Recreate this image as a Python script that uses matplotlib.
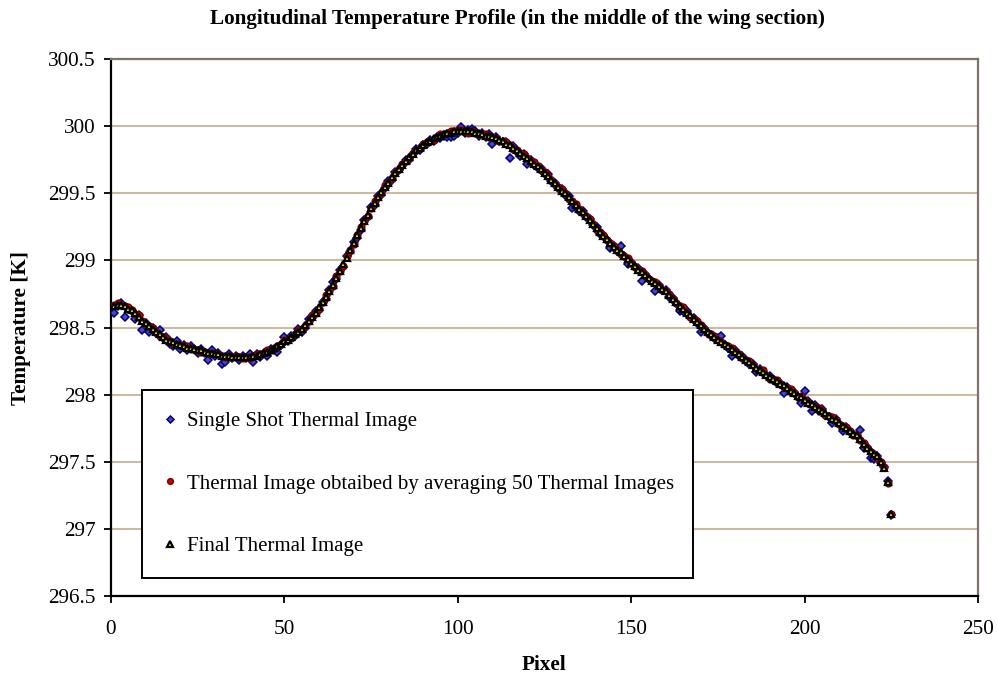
#!/usr/bin/env python3

import matplotlib as mpl
import matplotlib.pyplot as plt
from matplotlib.ticker import FuncFormatter

# Temperature along the wing chord, one value per image pixel.
pixel = list(range(1, 226))

final_image = [
    298.66, 298.67, 298.67, 298.66, 298.64, 298.63, 298.61, 298.58, 298.55, 298.53,
    298.51, 298.49, 298.47, 298.45, 298.43, 298.41, 298.40, 298.39, 298.38, 298.37,
    298.36, 298.35, 298.35, 298.34, 298.33, 298.33, 298.32, 298.31, 298.31, 298.30,
    298.30, 298.29, 298.29, 298.29, 298.28, 298.28, 298.28, 298.28, 298.28, 298.28,
    298.29, 298.29, 298.30, 298.31, 298.32, 298.33, 298.35, 298.36, 298.38, 298.40,
    298.41, 298.43, 298.45, 298.47, 298.49, 298.52, 298.55, 298.58, 298.61, 298.65,
    298.69, 298.73, 298.77, 298.82, 298.87, 298.92, 298.97, 299.02, 299.08, 299.13,
    299.19, 299.24, 299.29, 299.34, 299.39, 299.43, 299.47, 299.51, 299.55, 299.58,
    299.62, 299.65, 299.68, 299.71, 299.74, 299.77, 299.79, 299.82, 299.84, 299.86,
    299.88, 299.89, 299.91, 299.92, 299.93, 299.94, 299.95, 299.95, 299.96, 299.96,
    299.96, 299.96, 299.96, 299.96, 299.95, 299.95, 299.94, 299.93, 299.93, 299.92,
    299.91, 299.90, 299.89, 299.87, 299.86, 299.84, 299.82, 299.80, 299.78, 299.76,
    299.74, 299.72, 299.70, 299.68, 299.65, 299.63, 299.60, 299.58, 299.55, 299.52,
    299.50, 299.47, 299.44, 299.41, 299.38, 299.36, 299.33, 299.30, 299.27, 299.24,
    299.21, 299.18, 299.16, 299.13, 299.10, 299.08, 299.06, 299.03, 299.01, 298.98,
    298.96, 298.93, 298.91, 298.89, 298.87, 298.85, 298.83, 298.81, 298.79, 298.77,
    298.74, 298.71, 298.69, 298.66, 298.64, 298.61, 298.59, 298.56, 298.54, 298.52,
    298.49, 298.47, 298.45, 298.43, 298.41, 298.39, 298.38, 298.36, 298.34, 298.32,
    298.30, 298.28, 298.26, 298.24, 298.22, 298.20, 298.18, 298.17, 298.15, 298.13,
    298.12, 298.10, 298.08, 298.07, 298.05, 298.03, 298.01, 297.99, 297.98, 297.96,
    297.94, 297.93, 297.91, 297.89, 297.88, 297.86, 297.84, 297.82, 297.81, 297.79,
    297.77, 297.75, 297.73, 297.71, 297.70, 297.67, 297.63, 297.60, 297.58, 297.56,
    297.54, 297.50, 297.45, 297.35, 297.11,
]

averaged_image = [
    298.67, 298.68, 298.67, 298.66, 298.65, 298.63, 298.60, 298.59, 298.55, 298.52,
    298.51, 298.50, 298.47, 298.44, 298.43, 298.42, 298.40, 298.38, 298.38, 298.37,
    298.36, 298.36, 298.34, 298.34, 298.33, 298.32, 298.32, 298.31, 298.30, 298.30,
    298.30, 298.29, 298.28, 298.29, 298.28, 298.29, 298.28, 298.27, 298.28, 298.27,
    298.29, 298.30, 298.30, 298.31, 298.33, 298.33, 298.34, 298.36, 298.38, 298.41,
    298.41, 298.42, 298.45, 298.48, 298.49, 298.51, 298.55, 298.59, 298.61, 298.64,
    298.69, 298.74, 298.77, 298.81, 298.88, 298.92, 298.96, 299.03, 299.08, 299.12,
    299.19, 299.25, 299.29, 299.33, 299.39, 299.44, 299.47, 299.50, 299.56, 299.58,
    299.61, 299.66, 299.68, 299.72, 299.74, 299.76, 299.80, 299.82, 299.84, 299.87,
    299.88, 299.89, 299.90, 299.92, 299.94, 299.94, 299.95, 299.96, 299.96, 299.97,
    299.97, 299.96, 299.95, 299.96, 299.95, 299.94, 299.94, 299.94, 299.92, 299.92,
    299.91, 299.89, 299.89, 299.88, 299.86, 299.83, 299.82, 299.80, 299.79, 299.76,
    299.74, 299.73, 299.70, 299.67, 299.66, 299.63, 299.60, 299.57, 299.55, 299.53,
    299.50, 299.46, 299.44, 299.42, 299.38, 299.35, 299.33, 299.31, 299.27, 299.23,
    299.21, 299.19, 299.15, 299.13, 299.11, 299.08, 299.05, 299.03, 299.02, 298.98,
    298.95, 298.93, 298.92, 298.89, 298.86, 298.85, 298.84, 298.81, 298.78, 298.77,
    298.75, 298.71, 298.68, 298.66, 298.65, 298.61, 298.58, 298.56, 298.55, 298.52,
    298.49, 298.46, 298.45, 298.44, 298.41, 298.39, 298.37, 298.36, 298.35, 298.32,
    298.30, 298.27, 298.26, 298.25, 298.22, 298.19, 298.18, 298.18, 298.15, 298.12,
    298.12, 298.11, 298.08, 298.06, 298.05, 298.04, 298.01, 297.98, 297.99, 297.96,
    297.94, 297.92, 297.91, 297.90, 297.88, 297.85, 297.84, 297.83, 297.81, 297.78,
    297.77, 297.76, 297.73, 297.70, 297.70, 297.66, 297.64, 297.60, 297.57, 297.56,
    297.53, 297.50, 297.46, 297.34, 297.11,
]

single_shot = [
    298.61, 298.66, 298.68, 298.58, 298.64, 298.62, 298.56, 298.59, 298.48, 298.53,
    298.47, 298.50, 298.46, 298.48, 298.42, 298.43, 298.38, 298.36, 298.40, 298.34,
    298.37, 298.33, 298.36, 298.34, 298.31, 298.34, 298.31, 298.26, 298.33, 298.29,
    298.31, 298.23, 298.24, 298.30, 298.27, 298.29, 298.26, 298.29, 298.27, 298.30,
    298.24, 298.30, 298.28, 298.31, 298.29, 298.34, 298.33, 298.32, 298.37, 298.43,
    298.40, 298.44, 298.44, 298.49, 298.47, 298.50, 298.56, 298.57, 298.62, 298.63,
    298.69, 298.71, 298.78, 298.84, 298.86, 298.93, 298.95, 299.03, 299.06, 299.14,
    299.17, 299.23, 299.30, 299.32, 299.40, 299.41, 299.48, 299.49, 299.54, 299.59,
    299.60, 299.66, 299.67, 299.70, 299.75, 299.75, 299.79, 299.83, 299.82, 299.86,
    299.87, 299.90, 299.89, 299.92, 299.91, 299.93, 299.92, 299.92, 299.93, 299.95,
    299.99, 299.95, 299.97, 299.98, 299.96, 299.93, 299.95, 299.92, 299.94, 299.87,
    299.92, 299.89, 299.88, 299.88, 299.76, 299.85, 299.81, 299.78, 299.79, 299.72,
    299.75, 299.71, 299.69, 299.69, 299.64, 299.64, 299.59, 299.58, 299.54, 299.53,
    299.49, 299.48, 299.39, 299.40, 299.37, 299.37, 299.32, 299.31, 299.26, 299.25,
    299.20, 299.19, 299.15, 299.09, 299.11, 299.07, 299.11, 299.03, 298.97, 298.99,
    298.95, 298.94, 298.85, 298.90, 298.86, 298.84, 298.77, 298.82, 298.78, 298.78,
    298.73, 298.72, 298.68, 298.62, 298.62, 298.62, 298.58, 298.57, 298.53, 298.47,
    298.50, 298.46, 298.44, 298.42, 298.42, 298.44, 298.37, 298.35, 298.29, 298.33,
    298.29, 298.29, 298.25, 298.23, 298.23, 298.17, 298.19, 298.16, 298.15, 298.14,
    298.11, 298.09, 298.09, 298.01, 298.06, 298.02, 298.02, 297.98, 297.94, 298.03,
    297.95, 297.88, 297.92, 297.88, 297.89, 297.85, 297.83, 297.79, 297.82, 297.78,
    297.73, 297.76, 297.72, 297.71, 297.69, 297.74, 297.60, 297.61, 297.53, 297.52,
    297.54, 297.49, 297.46, 297.36, 297.10,
]

x_ticks = [0, 50, 100, 150, 200, 250]
y_ticks = [296.5, 297, 297.5, 298, 298.5, 299, 299.5, 300, 300.5]

title = 'Longitudinal Temperature Profile (in the middle of the wing section)'
labels = [
    'Single Shot Thermal Image',
    'Thermal Image obtaibed by averaging 50 Thermal Images',
    'Final Thermal Image',
]

grid_color = '#c9baa1'
frame_color = '#7c7468'
text_size = 15.3

mpl.rcParams['font.family'] = ['Liberation Serif', 'DejaVu Serif']
mpl.rcParams['font.size'] = text_size


def main() -> None:
    fig = plt.figure(figsize=(9.97, 6.75), dpi=100)
    ax = fig.add_axes([0.1113, 0.117, 0.8697, 0.7956])

    ax.plot(pixel, single_shot, linestyle='none', marker='D', markersize=4.2,
            markerfacecolor='#4a4ac0', markeredgecolor='#000080',
            markeredgewidth=1.1, label=labels[0], zorder=3)
    ax.plot(pixel, averaged_image, linestyle='none', marker='o',
            markersize=4.8, markerfacecolor='#d00000',
            markeredgecolor='#800000', markeredgewidth=1.1,
            label=labels[1], zorder=4)
    ax.plot(pixel, final_image, linestyle='none', marker='^', markersize=4.6,
            markerfacecolor='#ffff00', markeredgecolor='black',
            markeredgewidth=1.6, label=labels[2], zorder=5)

    ax.set_xlim(0, 250)
    ax.set_ylim(296.5, 300.5)
    ax.set_xticks(x_ticks)
    ax.set_yticks(y_ticks)
    ax.yaxis.set_major_formatter(FuncFormatter(lambda v, _: f'{v:g}'))

    ax.grid(axis='y', color=grid_color, linewidth=1.5)
    ax.set_axisbelow(True)
    ax.tick_params(axis='both', direction='out', length=5, width=1.3,
                   labelsize=text_size)
    ax.tick_params(axis='x', pad=12)
    ax.tick_params(axis='y', pad=6)

    for side in ('left', 'bottom'):
        ax.spines[side].set_color('black')
        ax.spines[side].set_linewidth(1.6)
    for side in ('top', 'right'):
        ax.spines[side].set_color(frame_color)
        ax.spines[side].set_linewidth(1.6)

    ax.set_xlabel('Pixel', fontsize=text_size, fontweight='bold', labelpad=12)
    ax.set_ylabel('Temperature [K]', fontsize=text_size, fontweight='bold',
                  labelpad=12)
    fig.text(0.519, 0.972, title, ha='center', va='center', fontsize=15.2,
             fontweight='bold')

    # Legend box hangs from a fixed top edge inside the plot area.
    leg = ax.legend(loc='upper left', bbox_to_anchor=(0.036, 0.0, 0.635, 0.3836),
                    mode='expand', fancybox=False, framealpha=1,
                    edgecolor='black', fontsize=15, labelspacing=2.05,
                    handlelength=0.6, handletextpad=0.5, borderpad=1.05,
                    borderaxespad=0, markerscale=0.85)
    leg.get_frame().set_linewidth(1.4)

    fig.savefig('out.png', dpi=100)


if __name__ == '__main__':
    main()
